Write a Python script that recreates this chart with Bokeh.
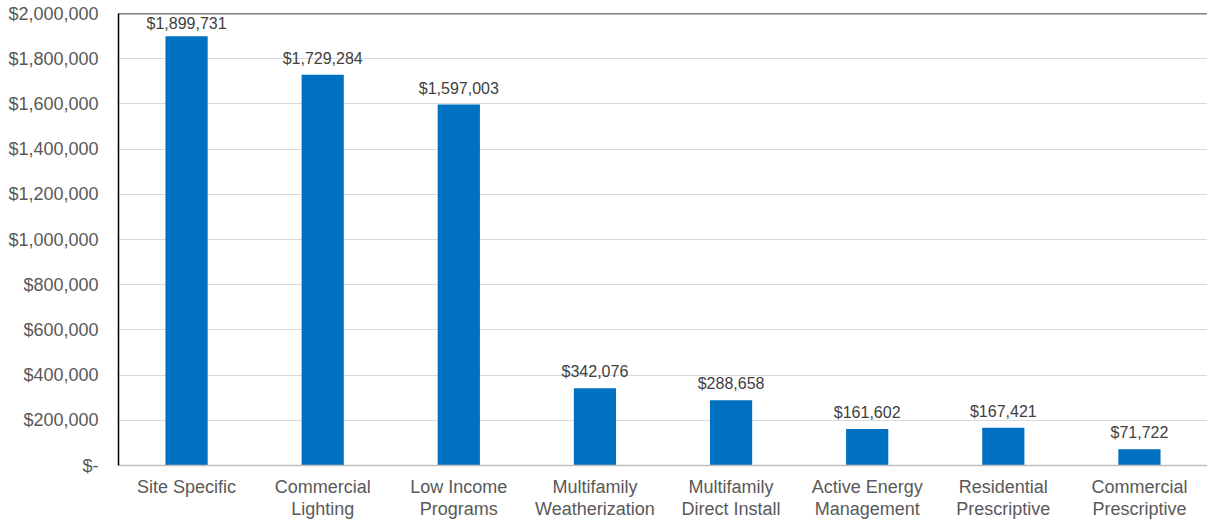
from bokeh.plotting import figure
from bokeh.models import ColumnDataSource, LabelSet, NumeralTickFormatter, FixedTicker, Span
from bokeh.core.properties import value
from bokeh.embed import file_html
from bokeh.resources import INLINE

categories = ["Site Specific", "Commercial\nLighting", "Low Income\nPrograms",
              "Multifamily\nWeatherization", "Multifamily\nDirect Install",
              "Active Energy\nManagement", "Residential\nPrescriptive",
              "Commercial\nPrescriptive"]
values = [1899731, 1729284, 1597003, 342076, 288658, 161602, 167421, 71722]
y_ticks = [0, 200000, 400000, 600000, 800000, 1000000, 1200000, 1400000,
           1600000, 1800000, 2000000]
Y_MAX = 2000000

FONT = "Liberation Sans"
TXT = "#595959"

# labels near the top of the plot area sit a little closer to their bar
offsets = [4 if v > 0.93 * Y_MAX else 8 for v in values]

src = ColumnDataSource(dict(cat=categories, val=values, off=offsets,
                            lab=[f"${v:,}" for v in values]))

p = figure(x_range=categories, y_range=(0, Y_MAX),
           frame_width=1089, frame_height=452,
           min_border_left=118, min_border_top=13, min_border_right=0,
           min_border_bottom=0,
           output_backend="svg", toolbar_location=None)
p.outline_line_color = None
p.background_fill_color = "white"
p.border_fill_color = "white"

p.vbar(x="cat", top="val", width=0.31, source=src,
       fill_color="#0070C0", line_color=None)

p.add_layout(LabelSet(x="cat", y="val", text="lab", source=src,
                      text_align="center", text_baseline="bottom",
                      y_offset="off", text_font=value(FONT),
                      text_font_size=value("16px"), text_color=value("#404040")))

p.add_layout(Span(location=Y_MAX, dimension="width",
                  line_color="black", line_width=1.5))

# y axis
p.yaxis.ticker = FixedTicker(ticks=y_ticks)
p.yaxis.formatter = NumeralTickFormatter(format="$0,0")
p.yaxis.major_label_overrides = {0: "$-"}
p.yaxis.major_tick_line_color = None
p.yaxis.minor_tick_line_color = None
p.yaxis.major_tick_out = 0
p.yaxis.major_label_standoff = 20
p.yaxis.axis_line_color = "black"
p.yaxis.axis_line_width = 1.5
p.yaxis.major_label_text_font = FONT
p.yaxis.major_label_text_font_size = "18px"
p.yaxis.major_label_text_color = TXT

# x axis
p.xaxis.major_tick_line_color = None
p.xaxis.major_tick_out = 0
p.xaxis.major_label_standoff = 11
p.xaxis.axis_line_color = "#bfbfbf"
p.xaxis.axis_line_width = 1.5
p.xaxis.major_label_text_font = FONT
p.xaxis.major_label_text_font_size = "18px"
p.xaxis.major_label_text_line_height = 1.12
p.xaxis.major_label_text_color = TXT

p.xgrid.grid_line_color = None
p.ygrid.grid_line_color = "#d9d9d9"
p.ygrid.grid_line_width = 1

open("out.html", "w").write(file_html(p, INLINE))
